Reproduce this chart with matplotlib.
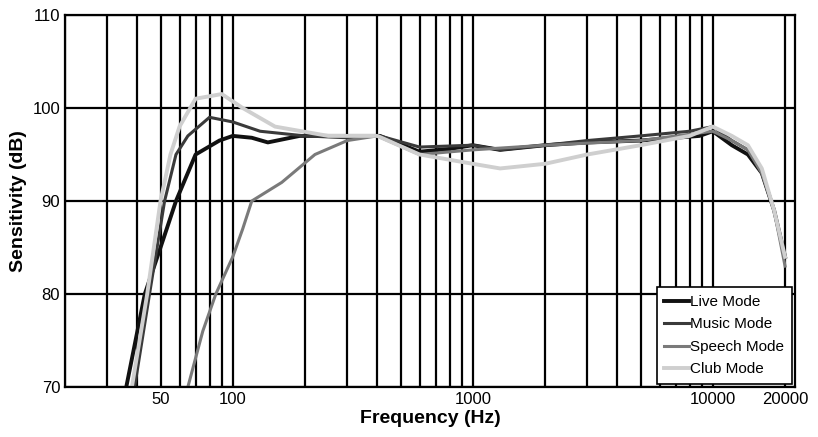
import matplotlib
matplotlib.use("Agg")
import matplotlib.pyplot as plt
import numpy as np

plt.rcParams['font.family'] = ['Liberation Sans', 'DejaVu Sans']

live_f = [36, 43, 50, 58, 70, 88, 100, 120, 140, 190, 250, 410, 600, 800, 1000, 1300, 2000, 3000, 5000, 7000, 8800, 10000, 12000, 14000, 16000, 18000, 20000]
live_v = [70, 80, 85, 90, 95, 96.5, 97, 96.8, 96.3, 97, 97, 97, 95.3, 95.6, 96, 95.5, 96, 96.3, 96.5, 96.8, 97, 97.5, 96, 95, 93, 89, 84]
music_f = [39, 45, 52, 58, 65, 80, 100, 130, 200, 300, 410, 600, 1000, 1300, 2000, 3000, 5000, 8000, 10000, 12000, 14000, 16000, 18000, 20000]
music_v = [70, 80, 90, 95, 97, 99, 98.5, 97.5, 97, 96.8, 97, 95.8, 96, 95.5, 96, 96.5, 97, 97.5, 98, 96.5, 95.5, 93, 89, 84]
speech_f = [65, 75, 85, 100, 110, 120, 160, 220, 300, 400, 600, 1000, 2000, 5000, 10000, 12000, 14000, 16000, 18000, 20000]
speech_v = [70, 76, 80, 84, 87, 90, 92, 95, 96.5, 97, 95, 95.5, 96, 96.5, 97.5, 96.5, 95.5, 93, 89, 83]
club_f = [38, 44, 50, 55, 60, 70, 90, 110, 150, 250, 400, 600, 1000, 1300, 2000, 3000, 5000, 8000, 10000, 12000, 14000, 16000, 18000, 20000]
club_v = [70, 80, 90, 95, 98, 101, 101.5, 100, 98, 97, 97, 95, 94, 93.5, 94, 95, 96, 97, 98, 97, 96, 93.5, 89, 84]

series = [("Live Mode", live_f, live_v, "#111111", 2.8),
          ("Music Mode", music_f, music_v, "#3a3a3a", 2.2),
          ("Speech Mode", speech_f, speech_v, "#7a7a7a", 2.2),
          ("Club Mode", club_f, club_v, "#cfcfcf", 2.8)]

fig = plt.figure(figsize=(8.18, 4.37), dpi=100)
ax = fig.add_axes([65/818, 50/437, 730/818, 372/437])
for name, f, v, c, lw in series:
    ax.plot(f, v, color=c, lw=lw, label=name)
ax.set_xscale("log")
ax.set_xlim(20, 22000)
ax.set_ylim(70, 110)
ax.set_yticks([70, 80, 90, 100, 110])
ax.set_xticks([50, 100, 1000, 10000, 20000])
ax.set_xticklabels(["50", "100", "1000", "10000", "20000"])
ax.xaxis.set_minor_locator(matplotlib.ticker.LogLocator(subs=np.arange(2, 10)))
ax.xaxis.set_minor_formatter(matplotlib.ticker.NullFormatter())
ax.grid(True, which="both", axis="x", color="black", lw=1.6)
ax.grid(True, which="major", axis="y", color="black", lw=1.6)
ax.tick_params(which="both", length=0, labelsize=12)
for s in ax.spines.values():
    s.set_color("black"); s.set_linewidth(1.6)
ax.set_xlabel("Frequency (Hz)", fontsize=14, fontweight="bold", labelpad=2)
ax.set_ylabel("Sensitivity (dB)", fontsize=14, fontweight="bold")
leg = ax.legend(loc="lower right", fontsize=11, frameon=True, fancybox=False,
                edgecolor="black", framealpha=1, borderaxespad=0.2,
                handlelength=1.6, handletextpad=0.1, labelspacing=0.55,
                borderpad=0.5)
leg.get_frame().set_linewidth(1.2)
fig.savefig("out.png", dpi=100)
